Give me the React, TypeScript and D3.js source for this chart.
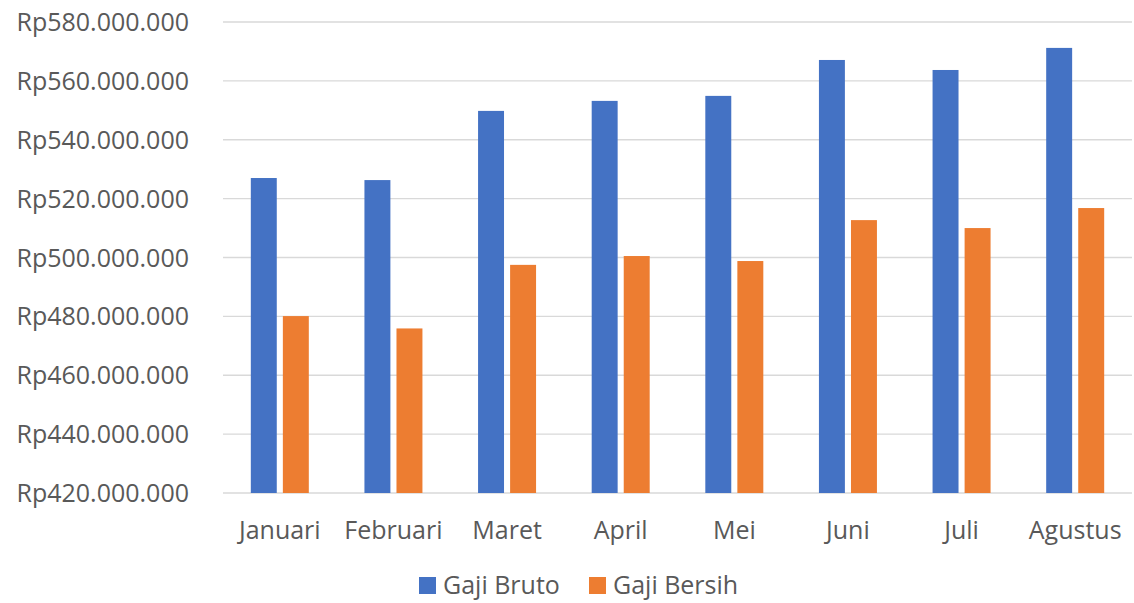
import React from "react";
import * as d3 from "d3";

const months = ["Januari", "Februari", "Maret", "April", "Mei", "Juni", "Juli", "Agustus"];
const seriesNames = ["Gaji Bruto", "Gaji Bersih"];
const gajiBruto = [527.0, 526.3, 549.8, 553.2, 554.9, 567.1, 563.7, 571.2];
const gajiBersih = [480.1, 475.9, 497.5, 500.5, 498.8, 512.7, 510.0, 516.8];
const yTicks = [420, 440, 460, 480, 500, 520, 540, 560, 580];
const colors = ["#4472C4", "#ED7D31"];

const W = 1134;
const H = 603;

export default function App() {
  const x0 = d3.scaleBand<string>().domain(months).range([223, 1132]).padding(0);
  const groupW = 58;
  const x1 = d3.scaleBand<string>().domain(seriesNames).range([0, groupW]).paddingInner(0.19);
  const y = d3.scaleLinear().domain([420, 580]).range([493, 22]);
  const fmt = (v: number) => "Rp" + v + ".000.000";
  const font = "'Open Sans', sans-serif";
  const data = [gajiBruto, gajiBersih];

  return (
    <svg width={W} height={H} style={{ position: "absolute", left: 0, top: 0, background: "#fff" }}
      fontFamily={font}>
      {yTicks.map((t) => (
        <g key={t}>
          <line x1={223} x2={1132} y1={y(t)} y2={y(t)} stroke="#d9d9d9" strokeWidth={1.3} />
          <text x={189} y={y(t)} dy="0.36em" textAnchor="end" fontSize={25} fill="#595959">{fmt(t)}</text>
        </g>
      ))}
      {months.map((m, i) => (
        <g key={m} transform={`translate(${x0(m)! + (x0.bandwidth() - groupW) / 2},0)`}>
          {data.map((s, j) => (
            <rect key={j} x={x1(seriesNames[j])} y={y(s[i])} width={x1.bandwidth()}
              height={y(420) - y(s[i])} fill={colors[j]} />
          ))}
        </g>
      ))}
      {months.map((m) => (
        <text key={m} x={x0(m)! + x0.bandwidth() / 2} y={530} dy="0.36em" textAnchor="middle"
          fontSize={25} fill="#595959">{m}</text>
      ))}
      {seriesNames.map((n, j) => {
        const lx = j === 0 ? 419 : 589;
        return (
          <g key={n}>
            <rect x={lx} y={577} width={17} height={17} fill={colors[j]} />
            <text x={lx + 24} y={585} dy="0.36em" fontSize={25} fill="#595959">{n}</text>
          </g>
        );
      })}
    </svg>
  );
}
